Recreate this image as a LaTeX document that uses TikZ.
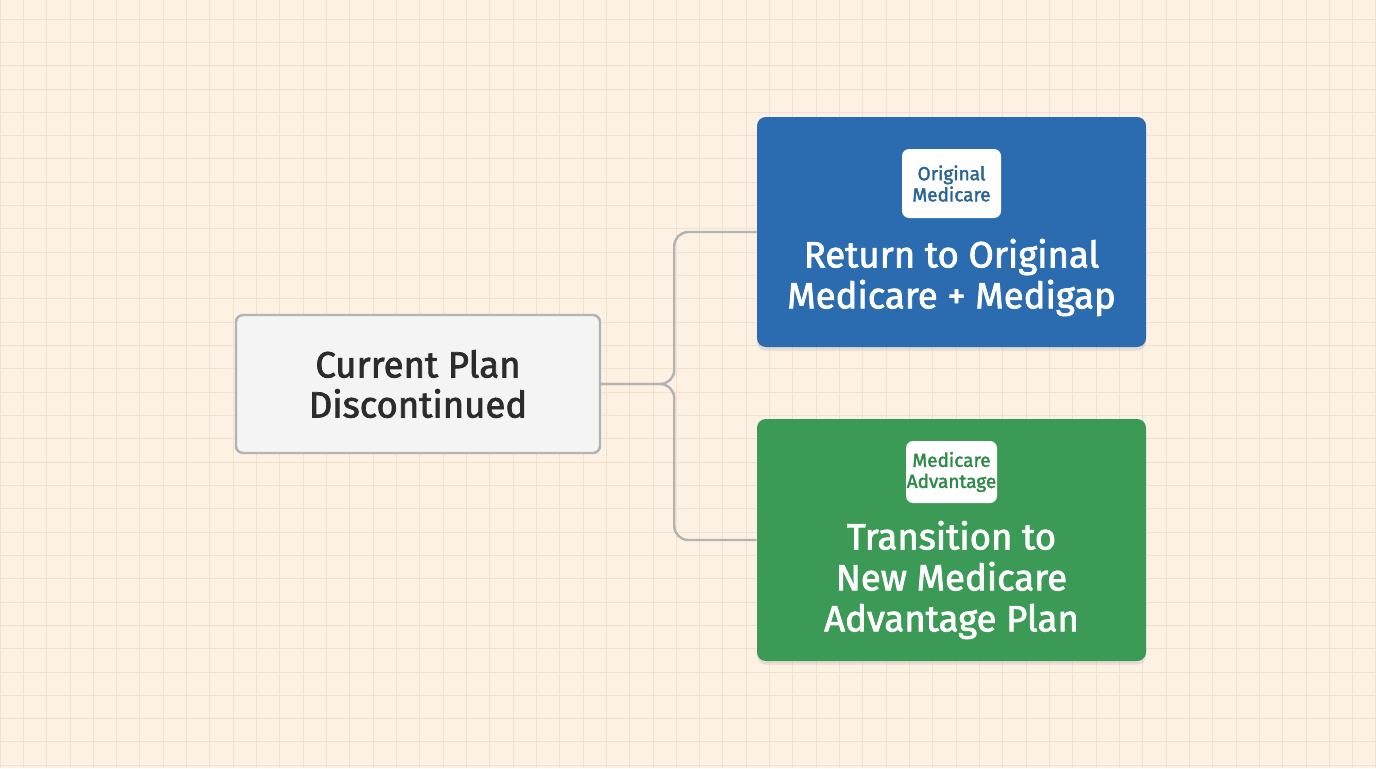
\documentclass[tikz,border=0pt]{standalone}
\usepackage{fontspec}
\setmainfont{Fira Sans}[FakeBold=2]
\usepackage{tikz}
\usetikzlibrary{positioning, shadows, calc}
\definecolor{paper}{HTML}{FDF1E4}
\definecolor{gridc}{HTML}{F3E1D0}
\definecolor{boxgray}{HTML}{F4F4F4}
\definecolor{edgegray}{HTML}{B3B3B3}
\definecolor{inkdark}{HTML}{2B2B2B}
\definecolor{medblue}{HTML}{2A6CAF}
\definecolor{medgreen}{HTML}{3C9A57}
\definecolor{badgeblue}{HTML}{2A6496}
\definecolor{badgegreen}{HTML}{2E8A48}

\begin{document}
\begin{tikzpicture}[
    gridline/.style={draw=gridc, line width=0.5pt},
    cur/.style={draw=edgegray, line width=1.4pt, rounded corners=4pt, fill=boxgray,
                minimum width=7.28cm, minimum height=2.76cm, align=center,
                text=inkdark, font=\fontsize{20.8}{22.8}\selectfont},
    opt/.style={rounded corners=5pt, minimum width=7.78cm, inner sep=0pt,
                drop shadow={opacity=0.18, shadow xshift=0pt, shadow yshift=-2pt}},
    badge/.style={fill=white, rounded corners=4pt, align=center, inner sep=0pt,
                  font=\fontsize{10.8}{12}\selectfont},
    lbl/.style={align=center, text=white, font=\fontsize{20.8}{23.3}\selectfont},
    conn/.style={draw=edgegray, line width=1.4pt, rounded corners=8pt},
]
    % Paper with its grid.
    \fill[paper] (0,0) rectangle (27.52,-15.36);
    \useasboundingbox (0,0) rectangle (27.52,-15.36);
    \foreach \i in {0,...,59}
        \draw[gridline] (\i*0.4664,0) -- ++(0,-15.36);
    \foreach \j in {0,...,32}
        \draw[gridline] (0,-0.38-\j*0.4664) -- ++(27.52,0);

    % Plan that ends, on the left.
    \node[cur] (plan) at (8.36,-7.68) {Current Plan\\Discontinued};

    % Option 1: back to Original Medicare.
    \node[opt, fill=medblue, minimum height=4.6cm] (orig) at (19.03,-4.64) {};
    \node[badge, text=badgeblue, minimum width=1.98cm, minimum height=1.38cm]
        (origtag) at (19.03,-3.67) {Original\\Medicare};
    \node[lbl] (origtxt) at (19.03,-5.55) {Return to Original\\Medicare + Medigap};

    % Option 2: a new Medicare Advantage plan.
    \node[opt, fill=medgreen, minimum height=4.84cm] (adv) at (19.03,-10.8) {};
    \node[badge, text=badgegreen, minimum width=1.82cm, minimum height=1.24cm]
        (advtag) at (19.03,-9.44) {Medicare\\Advantage};
    \node[lbl] (advtxt) at (19.03,-11.6) {Transition to\\New Medicare\\Advantage Plan};

    % Branching connectors.
    \coordinate (split) at ($(plan.east)+(1.46,0)$);
    \draw[conn] (plan.east) -- (split) |- (orig.west);
    \draw[conn] (plan.east) -- (split) |- (adv.west);
\end{tikzpicture}
\end{document}
